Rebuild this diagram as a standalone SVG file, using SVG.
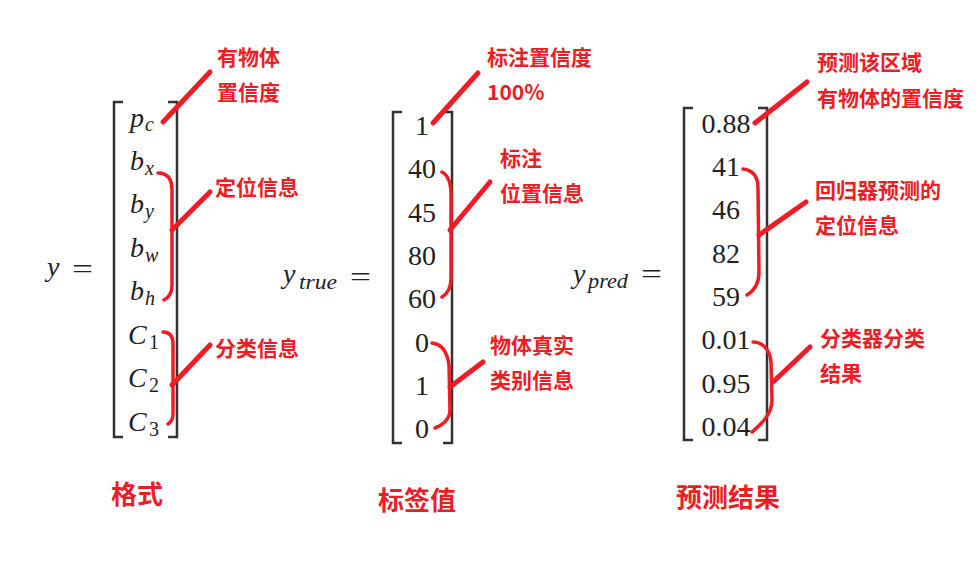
<svg xmlns="http://www.w3.org/2000/svg" width="979" height="577" viewBox="0 0 979 577">
<style>
.m{font-family:"Liberation Serif","DejaVu Serif",serif;font-size:28px;fill:#222}
.mi{font-family:"Liberation Serif","DejaVu Serif",serif;font-style:italic;font-size:28px;fill:#222}
.si{font-family:"Liberation Serif","DejaVu Serif",serif;font-style:italic;font-size:20px;fill:#222}
.s{font-family:"Liberation Serif","DejaVu Serif",serif;font-size:20px;fill:#222}
.br{fill:none;stroke:#333;stroke-width:2.5}
.lab{font-family:"Noto Sans CJK SC","Noto Sans",sans-serif;font-weight:bold;font-size:21px;fill:#ee1c25}
.title{font-family:"Noto Sans CJK SC","Noto Sans",sans-serif;font-weight:bold;font-size:26px;fill:#ee1c25}
.brace{fill:none;stroke:#ee1c25;stroke-width:3.5;stroke-linecap:round;stroke-linejoin:round}
.ptr{fill:none;stroke:#ee1c25;stroke-width:5;stroke-linecap:round}
</style>
<rect width="979" height="577" fill="#fff"/>

<g id="matrix-y">
  <text class="mi" x="47" y="276">y</text>
  <text class="m" x="72" y="278" textLength="21" lengthAdjust="spacingAndGlyphs">=</text>
  <path class="br" d="M123,102 H114 V437 H123"/>
  <path class="br" d="M168,102 H177 V437 H168"/>
  <text class="mi" x="130" y="127">p</text><text class="si" x="145" y="131">c</text>
  <text class="mi" x="130" y="170">b</text><text class="si" x="145" y="175">x</text>
  <text class="mi" x="130" y="213">b</text><text class="si" x="145" y="218">y</text>
  <text class="mi" x="130" y="257">b</text><text class="si" x="145" y="262">w</text>
  <text class="mi" x="130" y="300">b</text><text class="si" x="145" y="305">h</text>
  <text class="mi" x="128" y="344">C</text><text class="s" x="149" y="349">1</text>
  <text class="mi" x="128" y="387">C</text><text class="s" x="149" y="392">2</text>
  <text class="mi" x="128" y="431">C</text><text class="s" x="149" y="436">3</text>
</g>

<g id="matrix-ytrue">
  <text class="mi" x="283" y="283">y</text>
  <text class="si" x="299" y="289" textLength="38" lengthAdjust="spacingAndGlyphs">true</text>
  <text class="m" x="350" y="286" textLength="21" lengthAdjust="spacingAndGlyphs">=</text>
  <path class="br" d="M402,112 H393 V443 H402"/>
  <path class="br" d="M443,112 H452 V443 H443"/>
  <g class="m" text-anchor="middle">
    <text x="422" y="135">1</text>
    <text x="422" y="178">40</text>
    <text x="422" y="222">45</text>
    <text x="422" y="265">80</text>
    <text x="422" y="308">60</text>
    <text x="422" y="352">0</text>
    <text x="422" y="395">1</text>
    <text x="422" y="438">0</text>
  </g>
</g>

<g id="matrix-ypred">
  <text class="mi" x="573" y="283">y</text>
  <text class="si" x="588" y="288" textLength="40" lengthAdjust="spacingAndGlyphs">pred</text>
  <text class="m" x="641" y="283" textLength="21" lengthAdjust="spacingAndGlyphs">=</text>
  <path class="br" d="M693,108 H684 V440 H693"/>
  <path class="br" d="M758,108 H767 V440 H758"/>
  <g class="m" text-anchor="middle">
    <text x="726" y="133">0.88</text>
    <text x="726" y="176">41</text>
    <text x="726" y="219">46</text>
    <text x="726" y="263">82</text>
    <text x="726" y="306">59</text>
    <text x="726" y="349">0.01</text>
    <text x="726" y="393">0.95</text>
    <text x="726" y="436">0.04</text>
  </g>
</g>

<g id="connectors">
  <path class="ptr" d="M163,122 L210,72"/>
  <path class="brace" d="M158,173 C167,173 172,178 172,190 L172,285 C172,293 168,298 164,300"/>
  <path class="ptr" d="M172,230 L210,192"/>
  <path class="brace" d="M163,332 C170,332 173,336 173,344 L173,414 C173,419 171,422 168,424"/>
  <path class="ptr" d="M172,385 L210,345"/>

  <path class="ptr" d="M433,123 L478,73"/>
  <path class="brace" d="M442,172 C448,175 451,182 451,195 L451,278 C451,288 447,294 442,297"/>
  <path class="ptr" d="M450,230 L490,182"/>
  <path class="brace" d="M432,343 C441,344 447,350 449,365 L450,410 C450,420 441,426 435,428"/>
  <path class="ptr" d="M450,387 L483,362"/>

  <path class="ptr" d="M755,123 L807,82"/>
  <path class="brace" d="M743,169 C752,170 758,175 758,188 L759,272 C759,285 752,292 747,295"/>
  <path class="ptr" d="M759,235 L806,202"/>
  <path class="brace" d="M753,342 C763,342 770,350 771,362 L772,400 C772,415 760,425 752,432"/>
  <path class="ptr" d="M773,382 L810,347"/>
</g>

<g id="label-pc"><text class="lab" x="217" y="65">有物体</text><text class="lab" x="217" y="100">置信度</text></g>
<g id="label-loc"><text class="lab" x="215" y="195">定位信息</text></g>
<g id="label-cls"><text class="lab" x="215" y="356">分类信息</text></g>

<g id="label-true-conf"><text class="lab" x="487" y="65">标注置信度</text><text class="lab" x="487" y="100">100%</text></g>
<g id="label-true-loc"><text class="lab" x="500" y="166">标注</text><text class="lab" x="500" y="201">位置信息</text></g>
<g id="label-true-cls"><text class="lab" x="490" y="353">物体真实</text><text class="lab" x="490" y="388">类别信息</text></g>

<g id="label-pred-conf"><text class="lab" x="817" y="70">预测该区域</text><text class="lab" x="817" y="106">有物体的置信度</text></g>
<g id="label-pred-loc"><text class="lab" x="815" y="198">回归器预测的</text><text class="lab" x="815" y="233">定位信息</text></g>
<g id="label-pred-cls"><text class="lab" x="820" y="346">分类器分类</text><text class="lab" x="820" y="381">结果</text></g>

<g id="title-format"><text class="title" x="111" y="504">格式</text></g>
<g id="title-label"><text class="title" x="378" y="510">标签值</text></g>
<g id="title-pred"><text class="title" x="676" y="507">预测结果</text></g>
</svg>
